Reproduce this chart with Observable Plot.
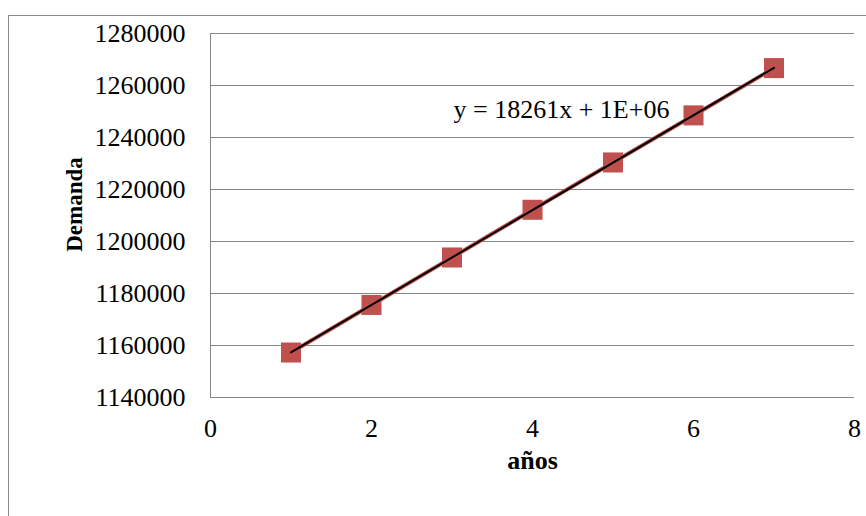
<!DOCTYPE html>
<html>
<head>
<meta charset="utf-8">
<script src="https://cdn.jsdelivr.net/npm/d3@7"></script>
<script src="https://cdn.jsdelivr.net/npm/@observablehq/plot@0.6"></script>
<style>
  html, body { margin: 0; padding: 0; background: #fff; overflow: hidden; }
  #wrap { position: relative; width: 866px; height: 516px; }
  #frame { position: absolute; left: 8px; top: 15px; width: 900px; height: 600px; border: 1px solid #8a8a8a; box-sizing: border-box; }
  #chart { position: absolute; left: 0; top: 0; }
  #chart svg, #chart svg text, #chart svg g { font-family: "Liberation Serif", "Times New Roman", serif !important; }
</style>
</head>
<body>
<div id="wrap"><div id="frame"></div><div id="chart"></div></div>
<script>
const years = [1, 2, 3, 4, 5, 6, 7];
const demanda = [1157300, 1175600, 1193850, 1212200, 1230400, 1248500, 1266700];
const xTicks = [0, 2, 4, 6, 8];
const yTicks = [1140000, 1160000, 1180000, 1200000, 1220000, 1240000, 1260000, 1280000];
const xTitle = ["años"];
const yTitle = ["Demanda"];
const eqLabel = [{x: 4.36, y: 1250800, text: "y = 18261x + 1E+06"}];

const data = years.map((x, i) => ({x, y: demanda[i]}));
const red = "#C0504D";
const gray = "#868686";
const serif = "Liberation Serif";

const chart = Plot.plot({
  width: 866,
  height: 516,
  marginLeft: 210,
  marginTop: 33,
  marginRight: 12,
  marginBottom: 119,
  x: {domain: [0, 8], ticks: xTicks},
  y: {domain: [1140000, 1280000], ticks: yTicks},
  style: {fontFamily: serif, fontSize: "26px", color: "black", background: "transparent"},
  marks: [
    Plot.gridY(yTicks, {stroke: gray, strokeOpacity: 1, strokeWidth: 1}),
    Plot.ruleX([0], {stroke: gray, strokeWidth: 1}),
    Plot.axisY(yTicks, {tickSize: 0, tickPadding: 25, tickFormat: d3.format("d"), label: null, fontFamily: serif, fontSize: 26}),
    Plot.axisX(xTicks, {tickSize: 0, tickPadding: 21, label: null, fontFamily: serif, fontSize: 26}),
    Plot.line(data, {x: "x", y: "y", stroke: red, strokeWidth: 4}),
    Plot.dot(data, {x: "x", y: "y", symbol: "square", r: 11.3, fill: red, stroke: "none"}),
    Plot.linearRegressionY(data, {x: "x", y: "y", stroke: "black", strokeWidth: 2, ci: 0}),
    Plot.text(eqLabel, {x: "x", y: "y", text: "text", fill: "black", fontSize: 26, fontFamily: serif}),
    Plot.text(xTitle, {frameAnchor: "bottom", dy: 71, textAnchor: "middle", fontWeight: "bold", fontSize: 26, fill: "black", fontFamily: serif}),
    Plot.text(yTitle, {frameAnchor: "left", dx: -136, dy: -11, rotate: -90, textAnchor: "middle", fontWeight: "bold", fontSize: 23, fill: "black", fontFamily: serif})
  ]
});
document.getElementById("chart").append(chart);
</script>
</body>
</html>
